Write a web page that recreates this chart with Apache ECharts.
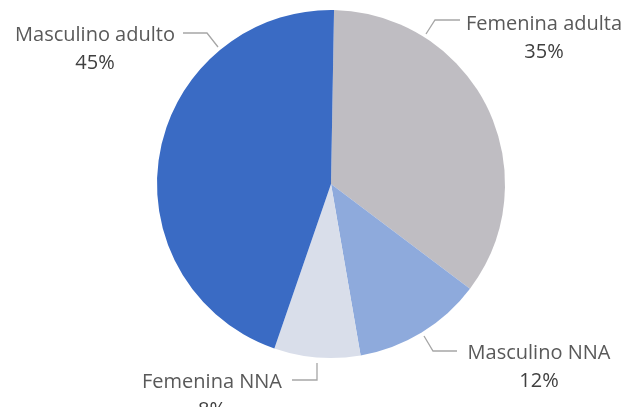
<!DOCTYPE html>
<html>
<head>
<meta charset="utf-8">
<style>
  html, body { margin: 0; padding: 0; background: #fff; }
  #main { width: 627px; height: 407px; }
</style>
<script src="https://cdn.jsdelivr.net/npm/echarts@6/dist/echarts.min.js"></script>
</head>
<body>
<div id="main"></div>
<script>
var categories = ['Femenina adulta', 'Masculino NNA', 'Femenina NNA', 'Masculino adulto']
var shares = [35, 12, 8, 45]
var colors = ['#BFBDC2', '#8EAADC', '#D9DEEA', '#3A6BC4']

// where Excel put each label (block centre) and its leader line
var labelPos = [
  { x: 544, y: 38, line: [[426, 34], [435, 20], [460, 20]] },
  { x: 539, y: 367, line: [[424, 336], [433, 351], [457, 351]] },
  { x: 212, y: 396, line: [[317, 363], [317, 380], [292, 380]] },
  { x: 95, y: 49, line: [[218, 47], [207, 33], [183, 33]] }
]

var pieData = categories.map(function (name, i) {
  return { name: name, value: shares[i], itemStyle: { color: colors[i] } }
})

var myChart = echarts.init(document.getElementById('main'))
var option = {
  animation: false,
  textStyle: { fontFamily: 'Open Sans' },
  series: [
    {
      type: 'pie',
      center: [331, 184],
      radius: [0, 174],
      startAngle: 89,
      clockwise: true,
      data: pieData,
      itemStyle: { borderWidth: 0 },
      label: {
        show: true,
        overflow: 'none',
        formatter: function (arg) {
          return '{n|' + arg.name + '}\n{p|' + arg.value + '%}'
        },
        rich: {
          n: { fontSize: 20, color: '#595959', fontFamily: 'Open Sans', lineHeight: 28 },
          p: { fontSize: 20, color: '#404040', fontFamily: 'Open Sans', lineHeight: 28 }
        }
      },
      labelLine: {
        show: true,
        lineStyle: { color: '#A6A6A6', width: 1.3 }
      },
      labelLayout: function (params) {
        var p = labelPos[params.dataIndex]
        return {
          x: p.x,
          y: p.y,
          align: 'center',
          verticalAlign: 'middle',
          labelLinePoints: p.line
        }
      }
    }
  ]
}
myChart.setOption(option)
</script>
</body>
</html>
